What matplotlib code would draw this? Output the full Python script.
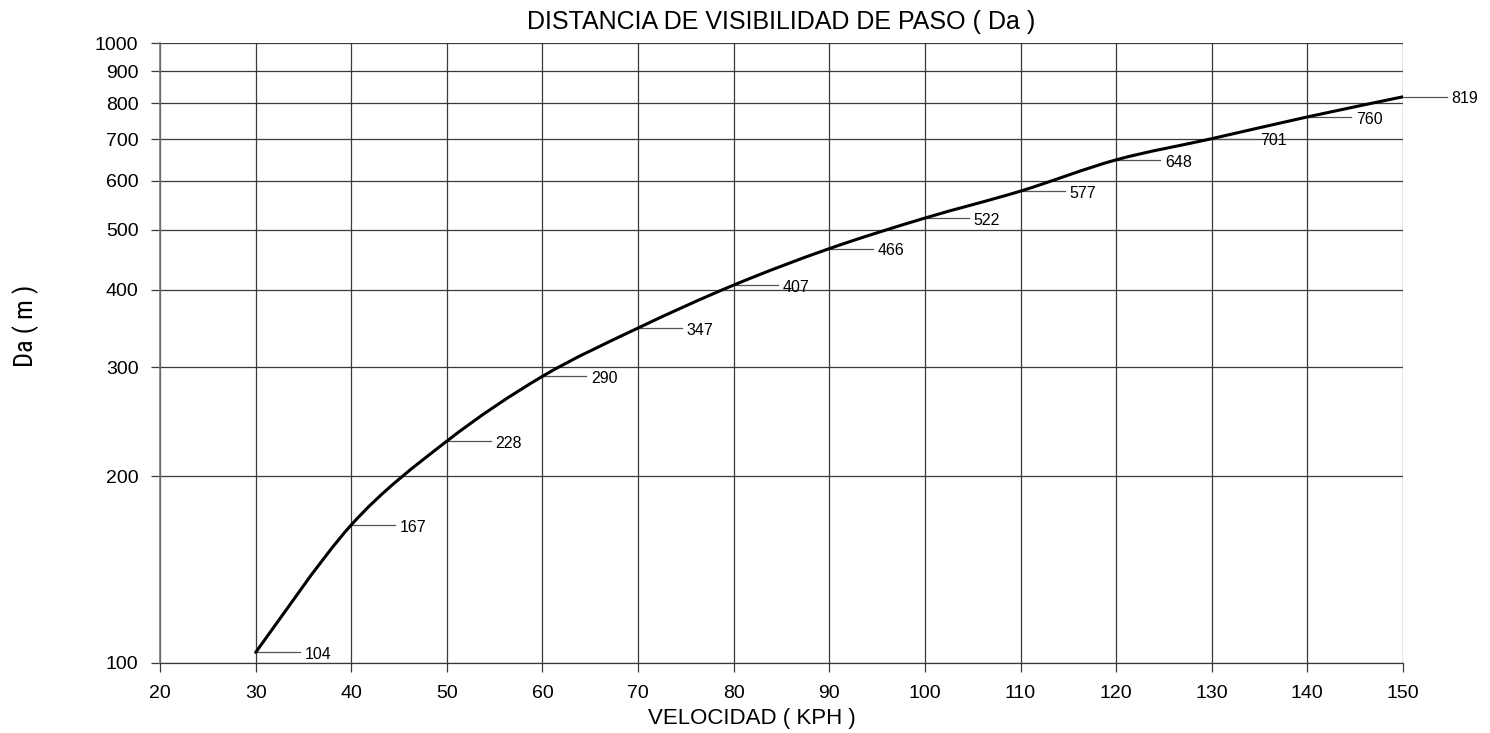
import numpy as np
import matplotlib
matplotlib.use('Agg')
import matplotlib.pyplot as plt
from matplotlib.ticker import FixedLocator, NullLocator
from matplotlib.path import Path
from matplotlib.patches import PathPatch
from matplotlib import font_manager

plt.rcParams['font.family'] = ['Liberation Sans', 'DejaVu Sans']

# velocidad (kph) y distancia de visibilidad de paso (m)
velocidad = [30, 40, 50, 60, 70, 80, 90, 100, 110, 120, 130, 140, 150]
da = [104, 167, 228, 290, 347, 407, 466, 522, 577, 648, 701, 760, 819]

x_ticks = list(range(20, 151, 10))
y_ticks = list(range(100, 1001, 100))

grid_col = '#3a3a3a'


def narrow_font():
    for fam in ['Liberation Sans Narrow', 'DejaVu Sans Condensed', 'Roboto Condensed']:
        try:
            font_manager.findfont(fam, fallback_to_default=False)
            return fam, True
        except Exception:
            pass
    return 'Liberation Sans', False


def smooth_path(xs, ys):
    # curva suavizada tipo Excel (Catmull-Rom -> Bezier), en espacio x / log10(y)
    p = np.column_stack([xs, np.log10(ys)]).astype(float)
    p = np.vstack([p[0], p, p[-1]])
    verts = [p[1]]
    codes = [Path.MOVETO]
    for i in range(1, len(p) - 2):
        c1 = p[i] + (p[i + 1] - p[i - 1]) / 6.0
        c2 = p[i + 1] - (p[i + 2] - p[i]) / 6.0
        verts += [c1, c2, p[i + 1]]
        codes += [Path.CURVE4] * 3
    verts = np.array(verts)
    verts[:, 1] = 10 ** verts[:, 1]
    return Path(verts, codes)


fig = plt.figure(figsize=(14.9, 7.33), dpi=100)
ax = fig.add_axes([0.1074, 0.0955, 0.8342, 0.8458])

ax.set_yscale('log')
ax.set_xlim(20, 150)
ax.set_ylim(100, 1000)

ax.xaxis.set_major_locator(FixedLocator(x_ticks))
ax.yaxis.set_major_locator(FixedLocator(y_ticks))
ax.yaxis.set_minor_locator(NullLocator())
ax.set_xticklabels([str(v) for v in x_ticks])
ax.set_yticklabels([str(v) for v in y_ticks])

ax.grid(True, which='major', color=grid_col, lw=0.9)
for s in ['top', 'right']:
    ax.spines[s].set_visible(False)
ax.spines['left'].set_color('#777777')
ax.spines['bottom'].set_color(grid_col)
ax.spines['left'].set_linewidth(1.2)
ax.spines['bottom'].set_linewidth(0.9)
ax.tick_params(axis='both', labelsize=14, color=grid_col, length=6.5, width=0.9)
ax.tick_params(axis='y', pad=9)
ax.tick_params(axis='x', pad=9)

curve = PathPatch(smooth_path(velocidad, da), facecolor='none', edgecolor='black',
                  lw=2.2, zorder=5, capstyle='round', joinstyle='round')
ax.add_patch(curve)

# etiquetas con linea guia
for xv, yv in zip(velocidad, da):
    ax.plot([xv, xv + 4.6], [yv, yv], color='#555555', lw=0.9, zorder=4, clip_on=False)
    ax.text(xv + 5.1, yv * 0.992, str(yv), fontsize=11.5, va='center', ha='left', clip_on=False)

ax.set_title('DISTANCIA DE VISIBILIDAD DE PASO ( Da )', fontsize=18, pad=10)
ax.set_xlabel('VELOCIDAD ( KPH )', fontsize=16)
ax.xaxis.set_label_coords(0.476, -0.072)

fam, is_narrow = narrow_font()
fig.text(0.017, 0.555, 'Da ( m )', rotation=90, fontsize=19 if is_narrow else 16,
         va='center', ha='center', family=[fam, 'DejaVu Sans'])

plt.savefig('out.png', dpi=100)
